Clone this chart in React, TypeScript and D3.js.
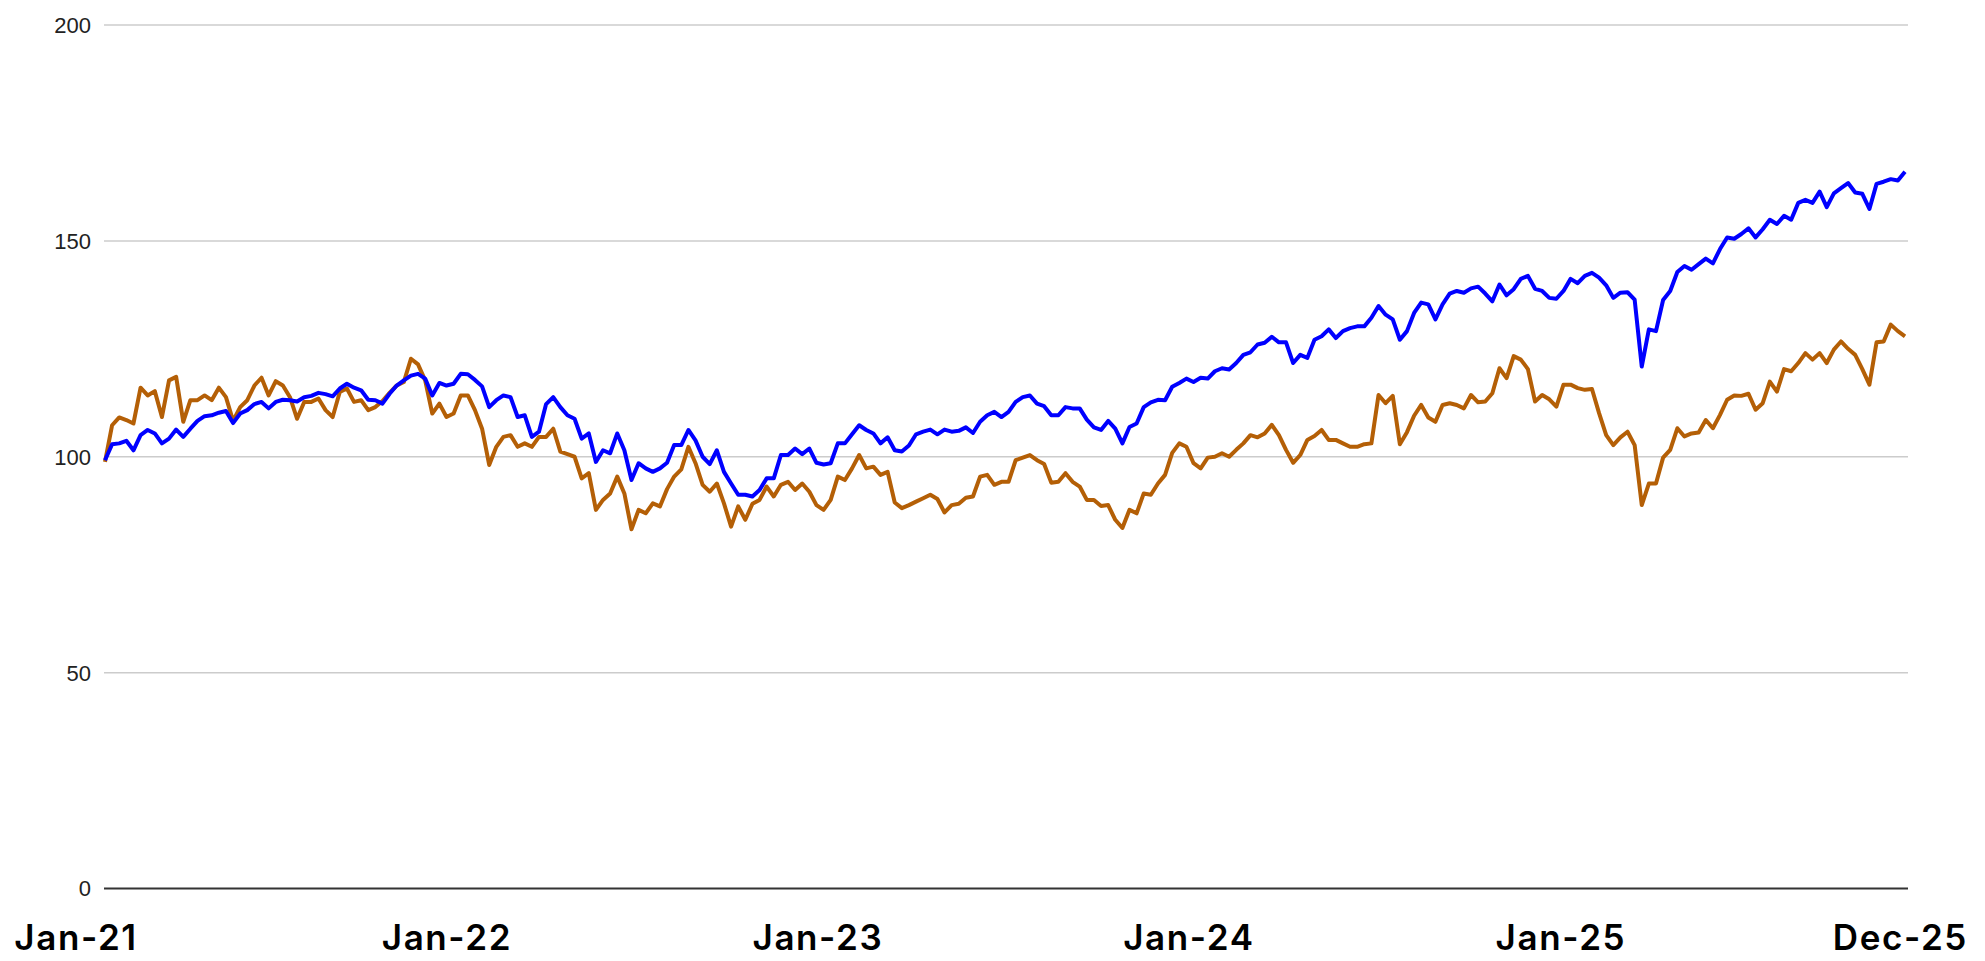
import React from 'react';
import * as d3 from 'd3';

// weekly closes, indexed to 100, starting first week of Jan 2021
const startDate = '2021-01-01';

const blueSeries: number[] = [
  99.2, 102.9, 103.1, 103.7, 101.5, 105, 106.2, 105.4, 103.1, 104.2,
  106.3, 104.6, 106.5, 108.3, 109.4, 109.6, 110.2, 110.6, 107.8, 110,
  110.8, 112.2, 112.7, 111.2, 112.7, 113.2, 113.1, 112.8, 113.8, 114.1,
  114.8, 114.5, 114, 115.8, 116.9, 116, 115.4, 113.2, 113.1, 112.3,
  114.6, 116.5, 117.7, 118.8, 119.2, 118.1, 114.2, 117.1, 116.5, 116.9,
  119.2, 119.1, 117.8, 116.3, 111.5, 113.1, 114.2, 113.8, 109.2, 109.6,
  104.6, 105.8, 112.2, 113.8, 111.5, 109.6, 108.8, 104.2, 105.4, 98.8,
  101.5, 100.8, 105.4, 101.5, 94.6, 98.5, 97.3, 96.5, 97.3, 98.6,
  102.7, 102.7, 106.2, 103.8, 100, 98.3, 101.5, 96.5, 93.8, 91.2,
  91.2, 90.8, 92.3, 95, 95, 100.4, 100.4, 101.9, 100.6, 101.9,
  98.6, 98.2, 98.5, 103.1, 103.1, 105.2, 107.3, 106.2, 105.4, 103.1,
  104.5, 101.5, 101.2, 102.6, 105.2, 105.8, 106.3, 105.2, 106.3, 105.8,
  106, 106.8, 105.5, 108.1, 109.6, 110.4, 109.2, 110.4, 112.7, 113.8,
  114.2, 112.3, 111.7, 109.6, 109.6, 111.5, 111.2, 111.2, 108.6, 106.8,
  106.2, 108.3, 106.5, 103.1, 106.9, 107.7, 111.5, 112.6, 113.2, 113.1,
  116.2, 117.1, 118.1, 117.3, 118.3, 118.1, 119.8, 120.5, 120.2, 121.7,
  123.6, 124.2, 126, 126.4, 127.8, 126.5, 126.5, 121.7, 123.6, 122.9,
  127.1, 127.9, 129.5, 127.5, 129.1, 129.8, 130.2, 130.2, 132.2, 134.9,
  132.9, 131.8, 127.1, 129.1, 133.3, 135.7, 135.3, 131.8, 135.3, 137.8,
  138.4, 138, 139, 139.4, 137.8, 136, 139.9, 137.4, 138.8, 141.2,
  141.9, 138.9, 138.4, 136.8, 136.6, 138.4, 141.2, 140.2, 141.9, 142.6,
  141.5, 139.7, 136.8, 138, 138.1, 136.4, 120.9, 129.5, 129.1, 136.3,
  138.4, 142.8, 144.2, 143.3, 144.6, 145.9, 144.8, 148.1, 150.8, 150.5,
  151.6, 152.9, 150.8, 152.7, 154.9, 153.9, 155.8, 154.9, 158.8, 159.5,
  158.8, 161.4, 157.8, 161, 162.2, 163.4, 161.2, 160.9, 157.4, 163.2,
  163.7, 164.3, 164, 166,
];

const orangeSeries: number[] = [
  98.8, 107.3, 109.1, 108.5, 107.7, 116, 114.2, 115.2, 109.2, 117.7,
  118.5, 108.1, 113.1, 113.1, 114.2, 113.1, 116, 113.8, 108.3, 111.5,
  113.1, 116.5, 118.3, 114.2, 117.5, 116.5, 113.8, 108.8, 112.7, 112.7,
  113.5, 110.8, 109.2, 115, 115.8, 112.7, 113.1, 110.8, 111.5, 112.9,
  114.8, 116.5, 117.3, 122.7, 121.4, 117.7, 110, 112.3, 109.2, 110,
  114.2, 114.2, 110.8, 106.5, 98.1, 102.3, 104.6, 105, 102.3, 103.1,
  102.3, 104.6, 104.6, 106.5, 101.2, 100.6, 100, 95, 96.2, 87.7,
  90, 91.5, 95.4, 91.5, 83.2, 87.7, 86.9, 89.2, 88.5, 92.5,
  95.4, 97.1, 102.3, 98.5, 93.5, 91.9, 93.8, 89.2, 83.8, 88.5,
  85.4, 89.1, 90, 93.1, 90.8, 93.5, 94.2, 92.3, 93.8, 91.9,
  88.8, 87.7, 90, 95.4, 94.6, 97.3, 100.4, 97.3, 97.7, 95.8,
  96.5, 89.4, 88.1, 88.8, 89.6, 90.4, 91.2, 90.2, 87.1, 88.8,
  89.1, 90.5, 90.8, 95.4, 95.8, 93.5, 94.2, 94.2, 99.2, 99.8,
  100.4, 99.2, 98.3, 94, 94.2, 96.2, 94.2, 93.1, 90, 90,
  88.6, 88.8, 85.4, 83.5, 87.7, 86.9, 91.5, 91.2, 93.8, 95.8,
  100.9, 103.1, 102.3, 98.5, 97.3, 99.8, 100, 100.8, 100, 101.6,
  103.1, 105, 104.5, 105.4, 107.4, 105, 101.6, 98.6, 100.4, 103.9,
  104.8, 106.2, 103.9, 103.9, 103.1, 102.3, 102.3, 102.9, 103.1, 114.3,
  112.4, 114.1, 102.9, 105.7, 109.5, 112, 109.1, 108.1, 112, 112.4,
  112, 111.2, 114.3, 112.6, 112.8, 114.7, 120.5, 118.2, 123.3, 122.5,
  120.3, 112.8, 114.3, 113.3, 111.6, 116.7, 116.7, 115.9, 115.5, 115.7,
  110.1, 105, 102.7, 104.5, 105.8, 102.7, 88.8, 93.8, 93.8, 99.8,
  101.6, 106.6, 104.7, 105.4, 105.6, 108.5, 106.6, 109.7, 113.2, 114.2,
  114.1, 114.6, 110.9, 112.4, 117.4, 115.1, 120.3, 119.8, 121.7, 124,
  122.5, 124, 121.7, 124.8, 126.7, 125, 123.6, 120.3, 116.7, 126.5,
  126.7, 130.6, 129.1, 127.9,
];

const tickDates = ['2021-01-01', '2022-01-01', '2023-01-01', '2024-01-01', '2025-01-01', '2025-12-01'];
const tickLabels = ['Jan-21', 'Jan-22', 'Jan-23', 'Jan-24', 'Jan-25', 'Dec-25'];
const yTicks = [0, 50, 100, 150, 200];

const width = 1985;
const height = 961;
const plotLeft = 104;
const plotRight = 1908;
const plotTop = 25;
const plotBottom = 888.5;

export default function App() {
  const parse = d3.timeParse('%Y-%m-%d');
  const start = parse(startDate) as Date;
  const dates = blueSeries.map((_, i) => d3.timeDay.offset(start, i * 7));

  const x = d3
    .scaleTime()
    .domain([dates[0], dates[dates.length - 1]])
    .range([105, 1905]);
  const y = d3.scaleLinear().domain([0, 200]).range([plotBottom, plotTop]);

  const path = d3
    .line<number>()
    .x((_, i) => x(dates[i]))
    .y(v => y(v));

  return (
    <svg
      width={width}
      height={height}
      style={{ position: 'absolute', left: 0, top: 0, background: '#fff' }}
    >
      {yTicks.map(t => (
        <g key={t}>
          <line
            x1={plotLeft}
            x2={plotRight}
            y1={y(t)}
            y2={y(t)}
            stroke={t === 0 ? '#333333' : '#cccccc'}
            strokeWidth={t === 0 ? 2 : 1.5}
          />
          <text
            x={91}
            y={y(t)}
            dy="0.36em"
            textAnchor="end"
            fontFamily="'Liberation Sans', Arial, sans-serif"
            fontSize={22}
            fill="#222"
          >
            {t}
          </text>
        </g>
      ))}

      <path
        d={path(orangeSeries) ?? ''}
        fill="none"
        stroke="#b45f06"
        strokeWidth={4}
        strokeLinejoin="round"
      />
      <path
        d={path(blueSeries) ?? ''}
        fill="none"
        stroke="#0000ff"
        strokeWidth={4}
        strokeLinejoin="round"
      />

      {tickDates.map((d, i) => (
        <text
          key={d}
          x={x(parse(d) as Date) - 29}
          y={950}
          textAnchor="middle"
          fontFamily="Inter, 'Noto Sans', sans-serif"
          fontWeight={600}
          fontSize={35}
          letterSpacing={1.6}
          fill="#000"
        >
          {tickLabels[i]}
        </text>
      ))}
    </svg>
  );
}
